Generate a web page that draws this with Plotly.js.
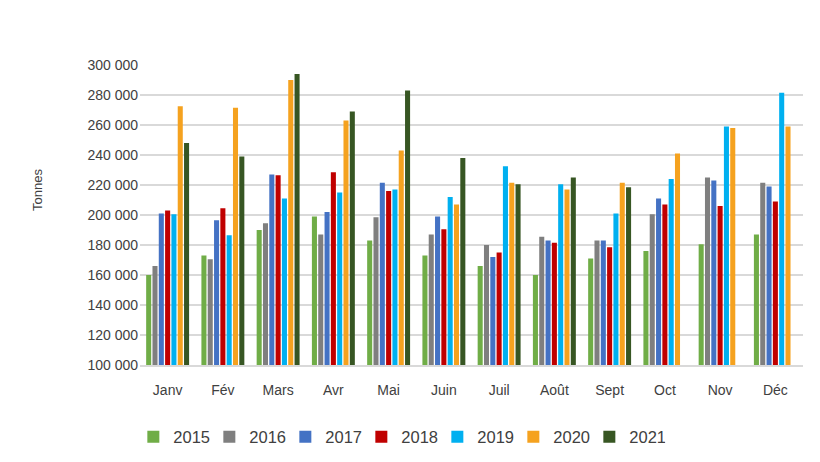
<!DOCTYPE html>
<html>
<head>
<meta charset="utf-8">
<script src="https://cdn.plot.ly/plotly-3.0.1.min.js"></script>
<style>html,body{margin:0;padding:0;background:#fff;}#chart{width:820px;height:462px;}</style>
</head>
<body>
<div id="chart"></div>
<script>
const months = ['Janv','Fév','Mars','Avr','Mai','Juin','Juil','Août','Sept','Oct','Nov','Déc'];
const years = ['2015','2016','2017','2018','2019','2020','2021'];
const v2015 = [160000,173000,190000,199000,183000,173000,166000,160000,171000,176000,180500,187000];
const v2016 = [166000,170500,194500,187000,198500,187000,180000,185500,183000,200500,225000,221500];
const v2017 = [201000,196500,227000,202000,221500,199000,172000,183000,183000,211000,223000,219000];
const v2018 = [203000,204500,226500,228500,216000,190500,175000,181500,178500,207000,206000,209000];
const v2019 = [200500,186500,211000,215000,217000,212000,232500,220500,201000,224000,259000,281500];
const v2020 = [272500,271500,290000,263000,243000,207000,221500,217000,221500,241000,258000,259000];
const v2021 = [248000,239000,294000,269000,283000,238000,220500,225000,218500,null,null,null];
const yTicks = [100000,120000,140000,160000,180000,200000,220000,240000,260000,280000,300000];

const series = [v2015,v2016,v2017,v2018,v2019,v2020,v2021];
const colors = ['#70ad47','#7f7f7f','#4472c4','#c00000','#00b0f0','#f5a21f','#375623'];

const traces = series.map((vals,i)=>({
  type:'bar', name:years[i], x:months, y:vals,
  marker:{color:colors[i]}, hoverinfo:'x+y+name'
}));

const layout = {
  width:820, height:462,
  margin:{l:140, r:17, t:65, b:97},
  paper_bgcolor:'#ffffff', plot_bgcolor:'#ffffff',
  font:{family:'"Liberation Sans", Arial, sans-serif', color:'#404040', size:14},
  separators:', ',
  barmode:'group', bargap:0.2, bargroupgap:0.2,
  xaxis:{
    type:'category', showgrid:false, showline:true, linecolor:'#d9d9d9', linewidth:1.5,
    ticks:'', tickfont:{size:14, color:'#404040'}, ticklabelstandoff:12
  },
  yaxis:{
    range:[100000,300000], tickvals:yTicks, tickformat:',d',
    showgrid:true, gridcolor:'#d9d9d9', gridwidth:1.5, zeroline:false,
    ticks:'', tickfont:{size:14, color:'#404040'}, ticklabelstandoff:1
  },
  legend:{
    orientation:'h', xref:'container', yref:'container',
    x:0.487, xanchor:'center', y:0.054, yanchor:'middle',
    font:{size:16.5, color:'#404040'},
    entrywidth:31, entrywidthmode:'pixels', itemwidth:30
  },
  annotations:[{
    text:'Tonnes', textangle:-90, xref:'paper', yref:'paper',
    x:(37-140)/663, y:(365-190)/300, xanchor:'center', yanchor:'middle',
    showarrow:false, font:{size:13, color:'#404040'}
  }]
};

Plotly.newPlot('chart', traces, layout, {displayModeBar:false, staticPlot:true});
</script>
</body>
</html>
